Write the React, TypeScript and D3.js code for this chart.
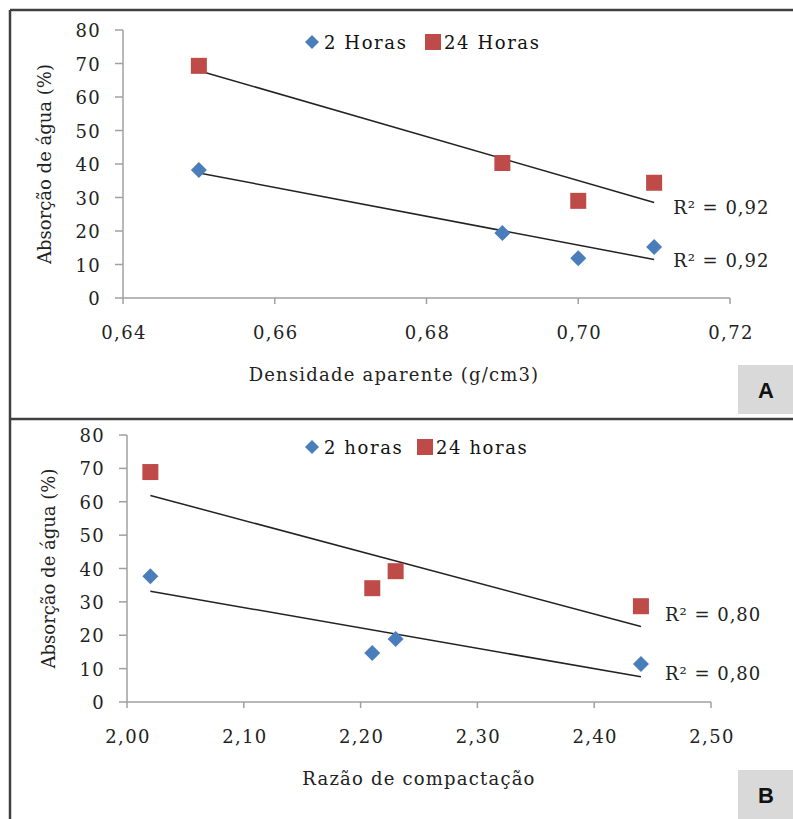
import * as d3 from 'd3'

// panel A: water absorption vs apparent density
const densidade = [0.65, 0.69, 0.70, 0.71]
const absA2h = [38.2, 19.4, 11.9, 15.2]
const absA24h = [69.3, 40.3, 29.0, 34.4]
const ticksA = [0.64, 0.66, 0.68, 0.70, 0.72]

// panel B: water absorption vs compaction ratio
const razao = [2.02, 2.21, 2.23, 2.44]
const absB2h = [37.7, 14.7, 18.9, 11.4]
const absB24h = [68.9, 34.1, 39.2, 28.7]
const ticksB = [2.0, 2.1, 2.2, 2.3, 2.4, 2.5]

const yTicks = [0, 10, 20, 30, 40, 50, 60, 70, 80]
const r2A = ['R² = 0,92', 'R² = 0,92']
const r2B = ['R² = 0,80', 'R² = 0,80']

const BLUE = '#4a7ebb'
const RED = '#be4b48'
const AXIS = '#a0a0a0'
const SERIF = "'DejaVu Serif', serif"

const fit = (xs: number[], ys: number[]) => {
  const mx = d3.mean(xs)!
  const my = d3.mean(ys)!
  const sxy = d3.sum(xs, (x, i) => (x - mx) * (ys[i] - my))
  const sxx = d3.sum(xs, x => (x - mx) ** 2)
  const b = sxy / sxx
  return (x: number) => my + b * (x - mx)
}

const diamond = (cx: number, cy: number, r: number) =>
  `M${cx},${cy - r}L${cx + r},${cy}L${cx},${cy + r}L${cx - r},${cy}Z`

type PanelProps = {
  xs: number[]
  y2: number[]
  y24: number[]
  xTicks: number[]
  xRange: [number, number]
  yRange: [number, number]
  legend: [string, string]
  legendX: [number, number]
  xTitle: string
  xTitleX: number
  r2: string[]
  r2Dy: [number, number]
  r2Dx: number
  tag: string
  tagY: number
}

const txt = { fontFamily: SERIF, fontSize: 18 }

const Panel = (p: PanelProps) => {
  const x = d3.scaleLinear().domain([p.xTicks[0], p.xTicks[p.xTicks.length - 1]]).range(p.xRange)
  const y = d3.scaleLinear().domain([0, 80]).range(p.yRange)
  const fmt = (v: number) => d3.format('.2f')(v).replace('.', ',')
  const x0 = d3.min(p.xs)!
  const x1 = d3.max(p.xs)!
  const f2 = fit(p.xs, p.y2)
  const f24 = fit(p.xs, p.y24)
  const line = d3.line<number[]>().x(d => x(d[0])).y(d => y(d[1]))
  const [ax0, ax1] = p.xRange
  const [yb, yt] = p.yRange
  const legY = yt + 12
  const midY = (yb + yt) / 2

  return (
    <g>
      {/* axes */}
      <line x1={ax0} x2={ax0} y1={yt} y2={yb} stroke={AXIS} strokeWidth={1.5} />
      <line x1={ax0} x2={ax1} y1={yb} y2={yb} stroke={AXIS} strokeWidth={1.5} />
      {yTicks.map(t => (
        <g key={t}>
          <line x1={ax0 - 8} x2={ax0} y1={y(t)} y2={y(t)} stroke={AXIS} strokeWidth={1.5} />
          <text x={ax0 - 22} y={y(t) + 7} textAnchor="end" style={{ ...txt, letterSpacing: 1.3 }}
            fill="#222">{t}</text>
        </g>
      ))}
      {p.xTicks.map(t => (
        <g key={t}>
          <line x1={x(t)} x2={x(t)} y1={yb} y2={yb + 6} stroke={AXIS} strokeWidth={1.5} />
          <text x={x(t) + 1} y={yb + 41} textAnchor="middle" style={{ ...txt, letterSpacing: 1.3 }}
            fill="#222">{fmt(t)}</text>
        </g>
      ))}
      <text transform={`translate(${p.xRange[0] - 72},${midY}) rotate(-90)`} textAnchor="middle"
        style={{ ...txt, letterSpacing: 0 }} fill="#222">Absorção de água (%)</text>
      <text x={p.xTitleX} y={yb + 83} textAnchor="middle" style={{ ...txt, letterSpacing: 1.2 }}
        fill="#222">{p.xTitle}</text>

      {/* trend lines */}
      <path d={line([[x0, f24(x0)], [x1, f24(x1)]])!} stroke="#222" strokeWidth={1.5} fill="none" />
      <path d={line([[x0, f2(x0)], [x1, f2(x1)]])!} stroke="#222" strokeWidth={1.5} fill="none" />
      <text x={x(x1) + p.r2Dx} y={y(f24(x1)) + p.r2Dy[0]} style={{ ...txt, letterSpacing: 1 }}
        fill="#222">{p.r2[0]}</text>
      <text x={x(x1) + p.r2Dx} y={y(f2(x1)) + p.r2Dy[1]} style={{ ...txt, letterSpacing: 1 }}
        fill="#222">{p.r2[1]}</text>

      {/* points */}
      {p.xs.map((v, i) => (
        <path key={'d' + i} d={diamond(x(v), y(p.y2[i]), 8)} fill={BLUE} />
      ))}
      {p.xs.map((v, i) => (
        <rect key={'s' + i} x={x(v) - 8} y={y(p.y24[i]) - 8} width={16} height={16} fill={RED} />
      ))}

      {/* legend */}
      <path d={diamond(p.legendX[0], legY, 7)} fill={BLUE} />
      <text x={p.legendX[0] + 12} y={legY + 7} style={{ ...txt, letterSpacing: 1.6 }}
        fill="#111">{p.legend[0]}</text>
      <rect x={p.legendX[1] - 8} y={legY - 8} width={16} height={16} fill={RED} />
      <text x={p.legendX[1] + 11} y={legY + 7} style={{ ...txt, letterSpacing: 1.6 }}
        fill="#111">{p.legend[1]}</text>

      {/* panel tag */}
      <rect x={738} y={p.tagY} width={55} height={49} fill="#d9d9d9" />
      <text x={766} y={p.tagY + 33} textAnchor="middle"
        style={{ fontFamily: "'Liberation Sans', Arial, sans-serif", fontSize: 22, fontWeight: 'bold' }}
        fill="#111">{p.tag}</text>
    </g>
  )
}

export default function App() {
  return (
    <svg width={793} height={819} style={{ position: 'absolute', left: 0, top: 0, background: '#fff' }}>
      <rect width={793} height={819} fill="#fff" />
      <Panel xs={densidade} y2={absA2h} y24={absA24h} xTicks={ticksA} xRange={[123, 730]}
        yRange={[298, 30]} legend={['2 Horas', '24 Horas']} legendX={[312, 433]}
        xTitle="Densidade aparente (g/cm3)" xTitleX={394} r2={r2A} r2Dy={[11, 7]} r2Dx={19}
        tag="A" tagY={365} />
      <Panel xs={razao} y2={absB2h} y24={absB24h} xTicks={ticksB} xRange={[127, 711]}
        yRange={[702, 435]} legend={['2 horas', '24 horas']} legendX={[312, 425]}
        xTitle="Razão de compactação" xTitleX={419} r2={r2B} r2Dy={[-5, 3]} r2Dx={24}
        tag="B" tagY={770} />
      {/* outer frame */}
      <line x1={10} x2={793} y1={10} y2={10} stroke="#404040" strokeWidth={2.5} />
      <line x1={10} x2={10} y1={10} y2={819} stroke="#404040" strokeWidth={2.5} />
      <line x1={10} x2={793} y1={419} y2={419} stroke="#404040" strokeWidth={2.5} />
    </svg>
  )
}
